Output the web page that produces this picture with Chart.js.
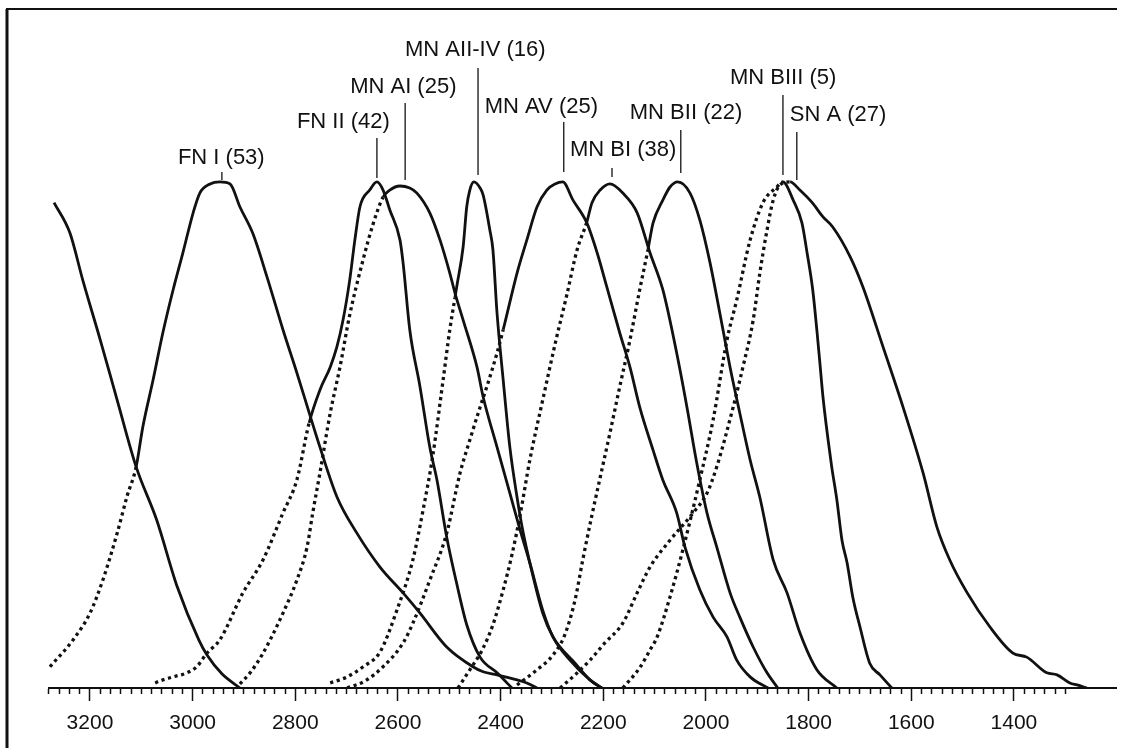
<!DOCTYPE html>
<html>
<head>
<meta charset="utf-8">
<title>Tuning curves</title>
<script src="https://cdn.jsdelivr.net/npm/chart.js@4.4.1/dist/chart.umd.min.js"></script>
<style>
  html, body { margin: 0; padding: 0; background: #fff; }
  #wrap { position: relative; width: 1135px; height: 748px; }
</style>
</head>
<body>
<div id="wrap"><canvas id="curves"></canvas></div>
<script>
// x = wave number, y = relative response (peak = 100)
var lead_x = [3270, 3239, 3214, 3180, 3147, 3110, 3070, 3030, 2988, 2972, 2943, 2908];
var lead_y = [95.9, 89.9, 80.6, 68.8, 56.9, 43.7, 33.2, 20.0, 9.5, 6.5, 2.8, 0];

var fnI_x = [3278, 3233, 3200, 3175, 3147, 3128, 3110, 3097, 3077, 3058, 3038, 3019, 2999, 2986, 2966, 2947, 2927, 2908, 2883, 2855, 2824, 2797, 2773, 2752, 2719, 2680, 2635, 2590, 2557, 2505, 2454, 2434, 2407, 2368, 2349, 2329];
var fnI_y = [4.2, 9.5, 14.8, 21.3, 30.6, 37.8, 43.7, 51.6, 60.9, 70.2, 78.7, 86.0, 93.9, 97.8, 99.6, 100, 99.6, 95.1, 89.9, 81.2, 70.8, 62.3, 54.4, 47.6, 37.8, 30.6, 23.9, 18.8, 14.8, 8.1, 4.2, 3.2, 2.6, 1.6, 1.0, 0];

var fnII_x = [3073, 3064, 3038, 3011, 2992, 2972, 2947, 2902, 2863, 2824, 2797, 2773, 2752, 2732, 2719, 2707, 2694, 2684, 2674, 2655, 2641, 2629, 2616, 2596, 2590, 2577, 2557, 2538, 2524, 2505, 2485, 2466, 2440, 2407, 2378];
var fnII_y = [1.0, 1.4, 2.2, 3.0, 4.2, 6.9, 9.5, 18.8, 25.3, 34.6, 41.1, 52.4, 58.9, 63.4, 67.4, 72.7, 80.6, 88.5, 95.1, 98.4, 100, 98.4, 94.5, 88.5, 84.0, 70.8, 59.5, 47.6, 41.1, 29.8, 20.4, 12.5, 6.1, 3.0, 0];

var mnAI_x = [2908, 2888, 2865, 2849, 2824, 2797, 2777, 2766, 2752, 2732, 2713, 2694, 2668, 2649, 2629, 2616, 2596, 2577, 2563, 2538, 2518, 2499, 2489, 2473, 2446, 2434, 2407, 2382, 2362, 2343, 2318, 2298, 2265, 2226, 2203];
var mnAI_y = [0.8, 3.0, 6.5, 9.5, 14.8, 21.3, 27.9, 34.6, 42.5, 54.3, 63.4, 73.7, 84.6, 91.5, 97.0, 98.4, 99.2, 98.8, 97.8, 93.9, 88.5, 82.0, 78.1, 72.7, 63.4, 57.5, 47.6, 38.5, 31.2, 24.7, 15.4, 10.1, 5.5, 1.6, 0];

var mnAIIIV_x = [2732, 2699, 2668, 2635, 2602, 2571, 2551, 2532, 2512, 2499, 2489, 2485, 2473, 2466, 2460, 2452, 2440, 2434, 2421, 2415, 2407, 2395, 2382, 2368, 2357, 2343, 2318, 2298, 2255, 2226, 2203];
var mnAIIIV_y = [1.0, 2.2, 4.2, 7.1, 15.4, 25.3, 35.2, 46.0, 60.9, 70.8, 77.1, 79.6, 87.2, 95.1, 98.4, 100, 98.8, 97.4, 90.5, 86.6, 74.1, 60.9, 47.6, 37.7, 31.2, 24.7, 14.8, 10.1, 4.9, 1.6, 0];

var mnAV_x = [2699, 2664, 2629, 2590, 2571, 2538, 2505, 2479, 2460, 2440, 2427, 2407, 2395, 2368, 2349, 2329, 2310, 2294, 2279, 2259, 2232, 2212, 2193, 2168, 2148, 2129, 2103, 2084, 2057, 2041, 2012, 1986, 1959, 1940, 1914, 1879];
var mnAV_y = [0, 1.4, 4.2, 8.9, 12.8, 21.3, 30.6, 42.5, 49.0, 55.5, 59.5, 66.2, 70.8, 82.0, 88.5, 95.1, 98.4, 99.6, 100, 96.4, 91.9, 86.0, 79.2, 70.2, 63.4, 55.5, 47.0, 41.1, 34.6, 27.9, 19.4, 14.0, 10.1, 5.5, 2.2, 0];

var mnBI_x = [2483, 2460, 2436, 2415, 2395, 2378, 2362, 2343, 2318, 2292, 2271, 2251, 2232, 2222, 2206, 2187, 2162, 2134, 2109, 2084, 2057, 2037, 2018, 1998, 1979, 1953, 1934, 1908, 1881, 1860];
var mnBI_y = [0, 3.6, 7.5, 12.5, 19.4, 26.3, 34.2, 45.1, 56.9, 68.8, 77.7, 86.6, 92.1, 95.9, 98.4, 99.6, 97.8, 93.9, 86.0, 78.7, 66.2, 55.5, 44.5, 34.6, 27.9, 18.8, 14.0, 8.1, 3.0, 0];

var mnBII_x = [2368, 2329, 2298, 2275, 2255, 2240, 2222, 2205, 2187, 2168, 2148, 2129, 2113, 2103, 2084, 2070, 2055, 2031, 2012, 1992, 1973, 1953, 1934, 1914, 1895, 1869, 1842, 1817, 1784, 1745];
var mnBII_y = [0.6, 3.6, 6.5, 10.5, 17.4, 25.3, 34.2, 42.1, 50.4, 59.5, 68.8, 78.7, 86.6, 91.9, 96.4, 99.0, 100, 97.8, 92.5, 84.0, 74.1, 63.4, 54.3, 45.1, 37.7, 25.3, 18.8, 10.9, 3.6, 0];

var mnBIII_x = [2162, 2129, 2109, 2095, 2070, 2045, 2012, 1986, 1959, 1940, 1914, 1889, 1862, 1850, 1830, 1813, 1803, 1792, 1784, 1778, 1772, 1762, 1755, 1745, 1735, 1725, 1714, 1700, 1681, 1661, 1638];
var mnBIII_y = [0, 4.0, 7.5, 10.1, 18.0, 27.3, 41.1, 53.0, 68.8, 76.7, 88.5, 95.9, 99.0, 100, 96.4, 91.9, 86.0, 78.7, 70.8, 64.2, 57.5, 49.0, 43.7, 37.2, 29.2, 24.7, 18.0, 12.1, 4.9, 2.6, 0];

var snA_x = [2284, 2255, 2226, 2197, 2162, 2134, 2109, 2070, 2025, 1998, 1979, 1947, 1928, 1908, 1895, 1881, 1869, 1856, 1836, 1817, 1793, 1772, 1753, 1719, 1694, 1655, 1616, 1577, 1550, 1525, 1491, 1447, 1402, 1375, 1336, 1316, 1291, 1277, 1258];
var snA_y = [0, 2.6, 5.5, 8.9, 12.8, 18.8, 23.9, 29.2, 34.6, 38.5, 43.7, 55.5, 63.4, 72.7, 82.0, 90.5, 96.4, 99.4, 100, 98.4, 95.9, 93.1, 91.1, 85.2, 79.2, 67.4, 55.5, 42.5, 31.8, 25.3, 18.8, 12.1, 6.9, 6.1, 3.0, 2.6, 1.0, 0.6, 0];

var labelText = ['FN I (53)', 'FN II (42)', 'MN AI (25)', 'MN AII-IV (16)', 'MN AV (25)', 'MN BI (38)', 'MN BII (22)', 'MN BIII (5)', 'SN A (27)'];
var labelPeak = [2943, 2641, 2586, 2444, 2277, 2183, 2049, 1850, 1823];

var majorTicks = [3200, 3000, 2800, 2600, 2400, 2200, 2000, 1800, 1600, 1400];

// the rising part up to this point index is drawn dotted
var curves = [
    { x: lead_x, y: lead_y, dottedTo: -1 },
    { x: fnI_x, y: fnI_y, dottedTo: 6 },
    { x: fnII_x, y: fnII_y, dottedTo: 11 },
    { x: mnAI_x, y: mnAI_y, dottedTo: 14 },
    { x: mnAIIIV_x, y: mnAIIIV_y, dottedTo: 10 },
    { x: mnAV_x, y: mnAV_y, dottedTo: 12 },
    { x: mnBI_x, y: mnBI_y, dottedTo: 12 },
    { x: mnBII_x, y: mnBII_y, dottedTo: 12 },
    { x: mnBIII_x, y: mnBIII_y, dottedTo: 13 },
    { x: snA_x, y: snA_y, dottedTo: 18 }
];

// label placement: [text dx from leader, text middle y, leader top, leader bottom] in px
var labelLayout = [
    [-44, 158, 172, 180],
    [-80, 122, 138, 178],
    [-55, 87, 103, 180],
    [-73, 50, 68, 175],
    [-79, 107, 122, 172],
    [-42, 150, 168, 177],
    [-51, 113, 130, 173],
    [-53, 78, 95, 175],
    [-7, 115, 132, 180]
];

var INK = '#111';
var FONT = '"Liberation Sans", Arial, Helvetica, sans-serif';
Chart.defaults.font.family = FONT;
Chart.defaults.color = INK;

// the axis numbers are set in a narrow face; use it if the machine has one
function hasFont(name) {
    var c = document.createElement('canvas').getContext('2d');
    c.font = '40px monospace';
    var w0 = c.measureText('3200 MNBI').width;
    c.font = '40px "' + name + '", monospace';
    return c.measureText('3200 MNBI').width !== w0;
}
var tickFont = { family: FONT, size: 21 };
var tickPad = 10;
if (hasFont('Liberation Sans Narrow')) {
    tickFont = { family: '"Liberation Sans Narrow", ' + FONT, size: 24 };
    tickPad = 8;
}

var datasets = curves.map(function (c) {
    return {
        data: c.x.map(function (v, i) { return { x: v, y: c.y[i] }; }),
        borderColor: INK,
        borderWidth: 2.8,
        pointRadius: 0,
        fill: false,
        cubicInterpolationMode: 'monotone',
        segment: {
            borderDash: function (ctx) { return ctx.p1DataIndex <= c.dottedTo ? [3.2, 3.6] : undefined; },
            borderWidth: function (ctx) { return ctx.p1DataIndex <= c.dottedTo ? 3.3 : undefined; }
        }
    };
});

// peak labels with leader lines
var peakLabels = {
    id: 'peakLabels',
    afterDatasetsDraw: function (chart) {
        var ctx = chart.ctx;
        var xs = chart.scales.x;
        ctx.save();
        ctx.strokeStyle = INK;
        ctx.fillStyle = INK;
        ctx.lineWidth = 1.3;
        ctx.font = '22px ' + FONT;
        ctx.textBaseline = 'middle';
        ctx.textAlign = 'left';
        for (var i = 0; i < labelText.length; i++) {
            var lx = xs.getPixelForValue(labelPeak[i]);
            var lay = labelLayout[i];
            ctx.beginPath();
            ctx.moveTo(lx, lay[2]);
            ctx.lineTo(lx, lay[3]);
            ctx.stroke();
            ctx.fillText(labelText[i], lx + lay[0], lay[1]);
        }
        ctx.restore();
    }
};

// frame of the printed figure (left and top edges)
var frame = {
    id: 'frame',
    afterDraw: function (chart) {
        var ctx = chart.ctx;
        ctx.save();
        ctx.strokeStyle = INK;
        ctx.lineWidth = 3;
        ctx.beginPath();
        ctx.moveTo(7, 748);
        ctx.lineTo(7, 9);
        ctx.stroke();
        ctx.lineWidth = 2;
        ctx.beginPath();
        ctx.moveTo(6, 9);
        ctx.lineTo(1117, 9);
        ctx.stroke();
        ctx.restore();
    }
};

new Chart(document.getElementById('curves'), {
    type: 'line',
    data: { datasets: datasets },
    options: {
        responsive: true,
        maintainAspectRatio: false,
        animation: false,
        events: [],
        layout: { padding: { left: 48.9, right: 18.4, top: 20, bottom: 10 } },
        plugins: { legend: { display: false }, tooltip: { enabled: false } },
        scales: {
            x: {
                type: 'linear',
                reverse: true,
                min: 1200,
                max: 3280,
                afterBuildTicks: function (scale) {
                    var t = [];
                    for (var v = 3280; v >= 1300; v -= 20) t.push({ value: v });
                    scale.ticks = t;
                },
                afterFit: function (scale) {
                    scale.height = 50;
                },
                border: { display: true, color: INK, width: 2 },
                grid: {
                    drawOnChartArea: false,
                    drawTicks: true,
                    tickLength: 13,
                    tickWidth: 1.5,
                    tickColor: INK,
                    tickBorderDash: function (ctx) {
                        return majorTicks.indexOf(ctx.tick.value) >= 0 ? [] : [5, 30];
                    }
                },
                ticks: {
                    autoSkip: false,
                    maxRotation: 0,
                    minRotation: 0,
                    padding: tickPad,
                    color: INK,
                    font: tickFont,
                    callback: function (value) {
                        return majorTicks.indexOf(value) >= 0 ? String(value) : '';
                    }
                }
            },
            y: {
                display: false,
                min: 0,
                max: 132
            }
        }
    },
    plugins: [peakLabels, frame]
});
</script>
</body>
</html>
